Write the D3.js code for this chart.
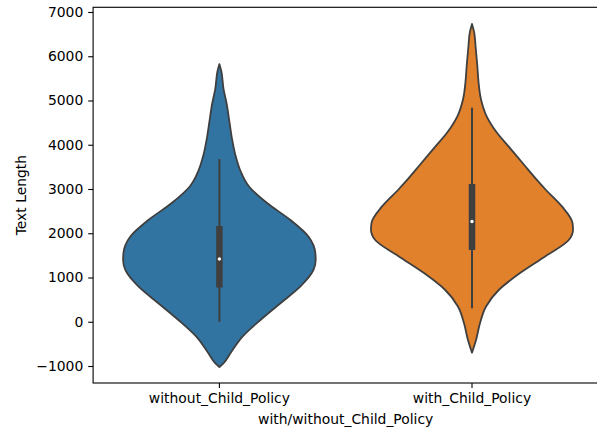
<!DOCTYPE html>
<html>
<head>
<meta charset="utf-8">
<script src="https://cdn.jsdelivr.net/npm/d3@7"></script>
<style>
  html, body { margin: 0; padding: 0; background: #fff; }
  svg { display: block; }
  text { font-family: "DejaVu Sans", sans-serif; fill: #000; }
</style>
</head>
<body>
<svg id="chart" width="597" height="430"></svg>
<script>
// Groups shown along the x axis
const categories = ["without_Child_Policy", "with_Child_Policy"];
const fillColors = ["#3274a1", "#e1812c"];

// Kernel density outline for each group: text length and relative density (1 = widest violin)
const withoutLevels  = [5823, 5649, 5274, 4898, 4521, 4146, 3768, 3429, 3052, 2677, 2299, 1927, 1548, 1395, 1170, 797, 418, 40, -338, -713, -939, -1023];
const withoutDensity = [0, 0.02, 0.04, 0.074, 0.099, 0.124, 0.158, 0.205, 0.295, 0.475, 0.703, 0.881, 0.950, 0.953, 0.931, 0.802, 0.604, 0.406, 0.228, 0.109, 0.04, 0];
const withLevels  = [6729, 6555, 6180, 5802, 5431, 5055, 4672, 4300, 3925, 3548, 3171, 2983, 2606, 2230, 2079, 1853, 1476, 1100, 723, 346, -35, -412, -699];
const withDensity = [0, 0.02, 0.037, 0.052, 0.064, 0.086, 0.139, 0.238, 0.376, 0.515, 0.655, 0.73, 0.89, 0.995, 1.0, 0.96, 0.723, 0.475, 0.267, 0.139, 0.079, 0.04, 0];

// Box summaries: [lower whisker, Q1, median, Q3, upper whisker]
const withoutBox = [0, 775, 1418, 2164, 3680];
const withBox    = [305, 1621, 2266, 3113, 4835];

// Axis ticks
const yTicks = [-1000, 0, 1000, 2000, 3000, 4000, 5000, 6000, 7000];
const xTitle = "with/without_Child_Policy";
const yTitle = "Text Length";

const groups = [
  { name: categories[0], levels: withoutLevels, density: withoutDensity, box: withoutBox, color: fillColors[0] },
  { name: categories[1], levels: withLevels, density: withDensity, box: withBox, color: fillColors[1] }
];

const svg = d3.select("#chart");
const frame = { left: 93.1, right: 598.3, top: 7.3, bottom: 383 };
const fontSize = 13.9;
const edge = "#3f3f3f";

const x = d3.scaleBand().domain(categories).range([frame.left, frame.right]).padding(0);
const y = d3.scaleLinear().domain([-1384, 7106]).range([frame.bottom, frame.top]);
const half = 0.4 * x.bandwidth();

svg.append("defs").append("clipPath").attr("id", "plotArea")
  .append("rect").attr("x", frame.left).attr("y", frame.top)
  .attr("width", frame.right - frame.left).attr("height", frame.bottom - frame.top);

const plot = svg.append("g").attr("clip-path", "url(#plotArea)");

groups.forEach(g => {
  const cx = x(g.name) + x.bandwidth() / 2;
  const pts = g.levels.map((v, i) => ({ v, d: g.density[i] })).reverse();
  const area = d3.area()
    .curve(d3.curveMonotoneY)
    .y(d => y(d.v))
    .x0(d => cx - half * d.d)
    .x1(d => cx + half * d.d);
  plot.append("path")
    .attr("d", area(pts))
    .attr("fill", g.color)
    .attr("stroke", edge)
    .attr("stroke-width", 1.8)
    .attr("stroke-linejoin", "round");

  const [lo, q1, med, q3, hi] = g.box;
  plot.append("line")
    .attr("x1", cx).attr("x2", cx)
    .attr("y1", y(lo)).attr("y2", y(hi))
    .attr("stroke", edge).attr("stroke-width", 2);
  plot.append("line")
    .attr("x1", cx).attr("x2", cx)
    .attr("y1", y(q1)).attr("y2", y(q3))
    .attr("stroke", edge).attr("stroke-width", 6.5);
  plot.append("circle")
    .attr("cx", cx).attr("cy", y(med)).attr("r", 1.7)
    .attr("fill", "#fff");
});

// Axes
const yAxis = d3.axisLeft(y).tickValues(yTicks).tickSize(4.9).tickPadding(4.9)
  .tickFormat(d => d < 0 ? "\u2212" + Math.abs(d) : String(d));
const gy = svg.append("g").attr("transform", `translate(${frame.left},0)`).call(yAxis);
gy.select(".domain").remove();
gy.selectAll(".tick line").attr("stroke", "#000").attr("stroke-width", 1.1);
gy.selectAll(".tick text").attr("font-size", fontSize).attr("font-family", "DejaVu Sans").attr("fill", "#000");

const xAxis = d3.axisBottom(x).tickSize(4.9).tickPadding(4.9);
const gx = svg.append("g").attr("transform", `translate(0,${frame.bottom})`).call(xAxis);
gx.select(".domain").remove();
gx.selectAll(".tick line").attr("stroke", "#000").attr("stroke-width", 1.1);
gx.selectAll(".tick text").attr("font-size", fontSize).attr("font-family", "DejaVu Sans").attr("fill", "#000");

// Frame
svg.append("rect")
  .attr("x", frame.left).attr("y", frame.top)
  .attr("width", frame.right - frame.left).attr("height", frame.bottom - frame.top)
  .attr("fill", "none").attr("stroke", "#000").attr("stroke-width", 1.1);

svg.append("text")
  .attr("x", (frame.left + frame.right) / 2).attr("y", 424)
  .attr("text-anchor", "middle").attr("font-size", fontSize)
  .text(xTitle);

svg.append("text")
  .attr("transform", `translate(25.5,${(frame.top + frame.bottom) / 2}) rotate(-90)`)
  .attr("text-anchor", "middle").attr("font-size", fontSize)
  .text(yTitle);
</script>
</body>
</html>
